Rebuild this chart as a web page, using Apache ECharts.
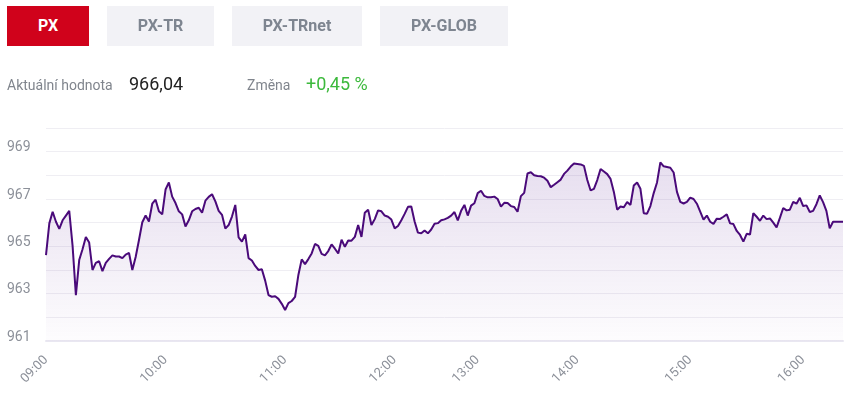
<!DOCTYPE html>
<html>
<head>
<meta charset="utf-8">
<script src="https://cdn.jsdelivr.net/npm/echarts@6/dist/echarts.min.js"></script>
<style>
  html, body { margin: 0; padding: 0; background: #fff; width: 849px; height: 398px; overflow: hidden; font-family: Roboto, "Noto Sans", Arial, sans-serif; }
  .btn { position: absolute; top: 6px; height: 40px; line-height: 40px; text-align: center; font-weight: 700; font-size: 16px; color: #7e8590; background: #f2f2f6; }
  .btn.active { background: #d0021b; color: #fff; }
  .lbl { position: absolute; top: 74px; font-size: 14px; color: #80858d; line-height: 22px; }
  .val { position: absolute; top: 72px; font-size: 18px; line-height: 24px; }
  #chart { position: absolute; left: 0; top: 0; width: 849px; height: 398px; }
</style>
</head>
<body>
<div id="chart"></div>
<div class="btn active" style="left:7px;width:82px;">PX</div>
<div class="btn" style="left:107px;width:107px;">PX-TR</div>
<div class="btn" style="left:232px;width:130px;">PX-TRnet</div>
<div class="btn" style="left:380px;width:128px;">PX-GLOB</div>
<div class="lbl" style="left:7px;">Aktuální hodnota</div>
<div class="val" style="left:129px;color:#222;">966,04</div>
<div class="lbl" style="left:247px;">Změna</div>
<div class="val" style="left:306px;color:#3cb93c;">+0,45 %</div>
<script>
// Index values per trading hour
const h09 = [964.63, 965.97, 966.46, 966.04, 965.74, 966.10, 966.30, 966.50, 965.03, 962.94,
             964.42, 964.88, 965.39, 965.16, 964.00, 964.30, 964.37, 963.95, 964.30, 964.47,
             964.62, 964.57, 964.57, 964.50, 964.65, 964.72, 964.00, 964.55, 965.27, 966.02,
             966.30, 966.05, 966.80, 966.97, 966.48, 966.35];
const h10 = [967.40, 967.70, 967.10, 966.83, 966.48, 966.35, 965.84, 966.10, 966.48, 966.58,
             966.63, 966.42, 966.93, 967.09, 967.20, 966.90, 966.50, 966.33, 965.75, 965.90,
             966.26, 966.75, 965.38, 965.20, 965.50, 964.50, 964.40, 964.17, 964.00, 964.03,
             963.55, 962.94, 962.87, 962.89, 962.78, 962.57];
const h11 = [962.31, 962.60, 962.69, 962.86, 963.79, 964.45, 964.25, 964.46, 964.70, 965.10,
             965.02, 964.68, 964.62, 964.80, 965.08, 964.90, 964.70, 965.28, 964.98, 965.25,
             965.24, 965.40, 965.90, 965.40, 966.42, 966.55, 965.90, 966.15, 966.52, 966.48,
             966.30, 966.25, 966.13];
const h12 = [965.76, 965.86, 966.10, 966.37, 966.67, 966.68, 966.05, 965.58, 965.55, 965.67,
             965.55, 965.71, 965.95, 965.98, 966.10, 966.14, 966.20, 966.30, 966.45, 966.10,
             966.50, 966.75, 966.30, 966.72, 966.82];
const h13 = [967.25, 967.35, 967.13, 967.07, 967.07, 967.10, 967.00, 966.68, 966.84, 966.83,
             966.70, 966.66, 966.46, 967.12, 967.26, 968.08, 968.13, 968.00, 967.97, 967.96,
             967.90, 967.77, 967.50, 967.60, 967.71, 967.82, 968.06, 968.20, 968.37, 968.50];
const h14 = [968.48, 968.46, 968.40, 967.80, 967.36, 967.43, 967.80, 968.27, 968.16, 968.05,
             967.85, 967.30, 966.55, 966.68, 966.65, 966.87, 966.75, 967.57, 967.70, 967.43,
             966.40, 966.38, 966.70, 967.25, 967.70, 968.55, 968.38, 968.35, 968.32, 968.12,
             967.30, 966.88, 966.81, 966.88];
const h15 = [967.06, 967.00, 966.80, 966.47, 966.13, 966.30, 966.04, 965.95, 966.17, 966.16,
             966.25, 966.35, 965.97, 965.94, 965.65, 965.48, 965.20, 965.53, 965.50, 966.40,
             966.25, 966.08, 966.30, 966.15, 966.18, 966.00, 965.80, 966.20, 966.62, 966.52,
             966.55, 966.88, 966.80, 967.05];
const h16 = [966.70, 966.73, 966.45, 966.50, 966.78, 967.15, 966.87, 966.50, 965.76, 966.04,
             966.04, 966.04, 966.04];

const hours = [['09', h09], ['10', h10], ['11', h11], ['12', h12], ['13', h13], ['14', h14], ['15', h15], ['16', h16]];
const yTicks = [961, 963, 965, 967, 969];

const categories = [];
const values = [];
hours.forEach(([hh, arr]) => {
  arr.forEach((v, j) => {
    const m = Math.round(j * 60 / arr.length);
    categories.push(hh + ':' + String(m).padStart(2, '0'));
    values.push(v);
  });
});

const chart = echarts.init(document.getElementById('chart'), null, { renderer: 'canvas' });
chart.setOption({
  animation: false,
  grid: { left: 46, right: 6, top: 128, bottom: 57, containLabel: false },
  xAxis: {
    type: 'category',
    data: categories,
    boundaryGap: false,
    axisLine: { show: true, lineStyle: { color: '#e9e7f1', width: 2 } },
    axisTick: { show: false },
    splitLine: { show: false },
    axisLabel: {
      interval: (idx, val) => val.slice(3) === '00',
      rotate: 45,
      color: '#8c9099',
      fontSize: 13,
      fontFamily: 'Roboto',
      margin: 17
    }
  },
  yAxis: {
    type: 'value',
    min: 961,
    max: 970,
    interval: 1,
    axisLine: { show: false },
    axisTick: { show: false },
    splitLine: { show: true, lineStyle: { color: '#efeef3', width: 1 } },
    axisLabel: {
      formatter: v => yTicks.includes(v) ? String(v) + '\n ' : '',
      color: '#8c9099',
      fontSize: 14,
      lineHeight: 8,
      fontFamily: 'Roboto',
      align: 'left',
      verticalAlign: 'middle',
      margin: 39
    }
  },
  series: [{
    type: 'line',
    data: values,
    showSymbol: false,
    symbol: 'none',
    lineStyle: { color: '#4a0a7a', width: 2 },
    areaStyle: {
      color: new echarts.graphic.LinearGradient(0, 0, 0, 1, [
        { offset: 0, color: 'rgba(110, 60, 160, 0.24)' },
        { offset: 1, color: 'rgba(110, 60, 160, 0.02)' }
      ])
    }
  }]
});
</script>
</body>
</html>
